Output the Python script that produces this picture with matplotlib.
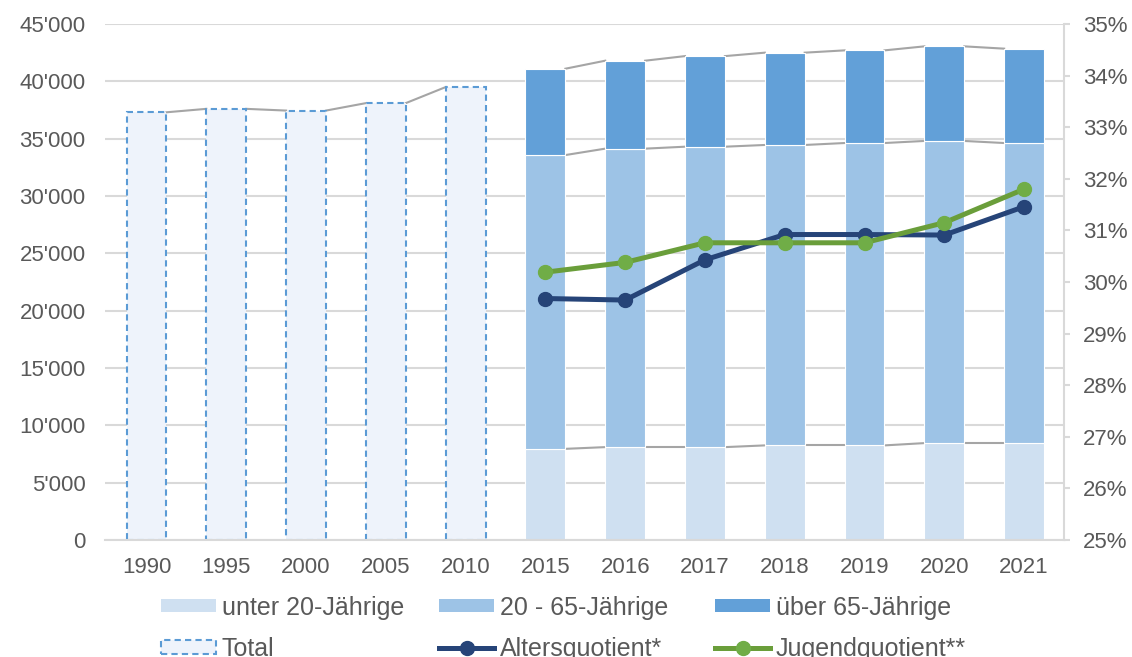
import matplotlib.pyplot as plt
import matplotlib.ticker as mticker
from matplotlib.patches import Patch
from matplotlib.lines import Line2D
import numpy as np

plt.rcParams['font.family'] = ['Liberation Sans', 'DejaVu Sans']

years = ['1990', '1995', '2000', '2005', '2010', '2015', '2016', '2017', '2018', '2019', '2020', '2021']
total_old = [37300, 37600, 37450, 38100, 39500]
unter20 = [7950, 8100, 8100, 8250, 8250, 8450, 8450]
mitte = [25620, 26030, 26200, 26200, 26370, 26350, 26170]
ueber65 = [7530, 7670, 7900, 8050, 8080, 8250, 8230]
alters = [29.68, 29.65, 30.43, 30.92, 30.92, 30.91, 31.46]
jugend = [30.19, 30.38, 30.76, 30.76, 30.76, 31.15, 31.80]

c_u20 = '#CFE0F1'
c_mid = '#9DC3E6'
c_u65 = '#62A0D8'
c_tot_fill = '#EEF3FB'
c_tot_edge = '#5B9BD5'
c_alt = '#264478'
c_jug = '#6A9E3A'
c_jug_mk = '#70AD47'
grid_c = '#D9D9D9'
txt_c = '#595959'
ser_c = '#A5A5A5'

fig = plt.figure(figsize=(11.32, 6.57), dpi=100)
ax = fig.add_axes([105 / 1132, 1 - 540 / 657, (1064 - 105) / 1132, (540 - 24) / 657])

x = np.arange(len(years))
x_old = x[:5]
x_new = x[5:]
w = 0.5

ax.bar(x_old, total_old, w, color=c_tot_fill, edgecolor=c_tot_edge,
       linestyle=(0, (3, 2)), linewidth=1.5, zorder=2)

b1 = np.array(unter20)
b2 = b1 + np.array(mitte)
b3 = b2 + np.array(ueber65)
ax.bar(x_new, unter20, w, color=c_u20, edgecolor='white', linewidth=0.8, zorder=2)
ax.bar(x_new, mitte, w, bottom=b1, color=c_mid, edgecolor='white', linewidth=0.8, zorder=2)
ax.bar(x_new, ueber65, w, bottom=b2, color=c_u65, edgecolor='white', linewidth=0.8, zorder=2)

# series lines between bars
def series_lines(xs, tops):
    for i in range(len(xs) - 1):
        ax.plot([xs[i] + w / 2, xs[i + 1] - w / 2], [tops[i], tops[i + 1]],
                color=ser_c, linewidth=1.5, zorder=1.5)

series_lines(x_old, total_old)
for lev in (b1, b2, b3):
    series_lines(x_new, lev)

ax.set_xlim(-0.52, 11.5)
ax.set_ylim(0, 45000)
ax.set_yticks(np.arange(0, 45001, 5000))
ax.yaxis.set_major_formatter(mticker.FuncFormatter(lambda v, p: f"{int(v):,}".replace(',', "'")))
ax.set_xticks(x)
ax.set_xticklabels(years)
ax.grid(axis='y', color=grid_c, linewidth=1.5, zorder=0)
ax.set_axisbelow(True)
for s in ['top', 'left', 'right']:
    ax.spines[s].set_visible(False)
ax.spines['bottom'].set_color(grid_c)
ax.spines['bottom'].set_linewidth(1.5)
ax.tick_params(axis='both', length=0, labelsize=16, labelcolor=txt_c)
ax.tick_params(axis='y', pad=14)
ax.tick_params(axis='x', pad=12)

ax2 = ax.twinx()
ax2.plot(x_new, alters, color=c_alt, linewidth=3.6, marker='o', markersize=10,
         markerfacecolor=c_alt, markeredgecolor=c_alt, zorder=3)
ax2.plot(x_new, jugend, color=c_jug, linewidth=3.6, marker='o', markersize=10,
         markerfacecolor=c_jug_mk, markeredgecolor=c_jug_mk, zorder=4)
ax2.set_ylim(25, 35)
ax2.set_yticks(np.arange(25, 35.1, 1))
ax2.yaxis.set_major_formatter(mticker.FuncFormatter(lambda v, p: f"{int(round(v))}%"))
for s in ['top', 'left', 'bottom']:
    ax2.spines[s].set_visible(False)
ax2.spines['right'].set_color(grid_c)
ax2.spines['right'].set_linewidth(1.5)
ax2.tick_params(axis='y', length=4.5, width=1.5, color=grid_c, labelsize=16,
                labelcolor=txt_c, pad=9)

# legend: three columns, placed one by one
columns = [
    [Patch(facecolor=c_u20, edgecolor='none', label='unter 20-Jährige'),
     Patch(facecolor=c_tot_fill, edgecolor=c_tot_edge, linestyle=(0, (3, 2)),
           linewidth=1.5, label='Total')],
    [Patch(facecolor=c_mid, edgecolor='none', label='20 - 65-Jährige'),
     Line2D([], [], color=c_alt, linewidth=3.6, marker='o', markersize=10,
            label='Altersquotient*')],
    [Patch(facecolor=c_u65, edgecolor='none', label='über 65-Jährige'),
     Line2D([], [], color=c_jug, linewidth=3.6, marker='o', markersize=10,
            markerfacecolor=c_jug_mk, markeredgecolor=c_jug_mk, label='Jugendquotient**')],
]
col_x = [161, 439, 715]
for hs, cx in zip(columns, col_x):
    leg = fig.legend(handles=hs, ncol=1, loc='upper left',
                     bbox_to_anchor=((cx - 7.5) / 1132, 1 - 588 / 657), frameon=False,
                     fontsize=18, handlelength=2.2, handleheight=0.45, handletextpad=0.24,
                     labelspacing=0.7, borderpad=0.3, borderaxespad=0, numpoints=1)
    for t in leg.get_texts():
        t.set_color(txt_c)

fig.savefig('out.png', dpi=100)
